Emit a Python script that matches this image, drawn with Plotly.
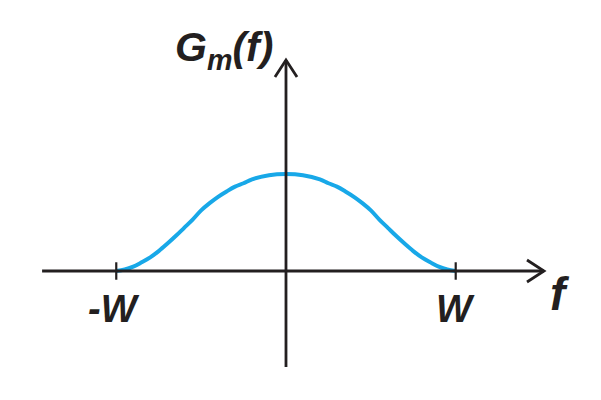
import plotly.graph_objects as go

# Spectrum shape G_m(f), f in units of W
freq = [-1.0, -0.95, -0.9, -0.85, -0.8, -0.75, -0.7, -0.65, -0.6, -0.55, -0.5,
        -0.45, -0.4, -0.35, -0.3, -0.25, -0.2, -0.1, 0.0,
        0.1, 0.2, 0.25, 0.3, 0.35, 0.4, 0.45, 0.5, 0.55, 0.6, 0.65, 0.7,
        0.75, 0.8, 0.85, 0.9, 0.95, 1.0]
gain = [0.0, 0.015, 0.045, 0.09, 0.14, 0.205, 0.28, 0.36, 0.445, 0.53, 0.625,
        0.70, 0.765, 0.82, 0.87, 0.905, 0.945, 0.988, 1.0,
        0.988, 0.945, 0.905, 0.87, 0.82, 0.765, 0.70, 0.625, 0.53, 0.445, 0.36, 0.28,
        0.205, 0.14, 0.09, 0.045, 0.015, 0.0]

tick_vals = [-1.0, 1.0]
tick_labels = ["-W", "W"]
x_axis_title = "f"
y_axis_title = "<i>G</i><sub><i>m</i></sub><i>(f)</i>"

W, H = 601, 400
X_RANGE = [-1.685, 1.856]
Y_RANGE = [-1.330, 2.794]
ink = "#231f20"
blue = "#18a8e8"

fig = go.Figure()
fig.add_trace(go.Scatter(x=freq, y=gain, mode="lines",
                         line=dict(color=blue, width=4, shape="spline"),
                         hoverinfo="skip", showlegend=False))

# axis extents and arrow geometry (data units)
x_lo, x_hi = -1.437, 1.52
y_lo, y_hi = -0.99, 2.175
ax_len, ax_half = 0.10, 0.113     # horizontal arrow head
ay_len, ay_half = 0.175, 0.065    # vertical arrow head

shapes = [
    dict(type="line", x0=x_lo, x1=x_hi, y0=0, y1=0, line=dict(color=ink, width=2.8)),
    dict(type="line", x0=0, x1=0, y0=y_lo, y1=y_hi, line=dict(color=ink, width=2.8)),
    dict(type="path",
         path=f"M {x_hi-ax_len},{ax_half} L {x_hi},0 L {x_hi-ax_len},{-ax_half}",
         line=dict(color=ink, width=2.8)),
    dict(type="path",
         path=f"M {-ay_half},{y_hi-ay_len} L 0,{y_hi} L {ay_half},{y_hi-ay_len}",
         line=dict(color=ink, width=2.8)),
]
for tv in tick_vals:
    shapes.append(dict(type="line", x0=tv, x1=tv, y0=-0.09, y1=0.09,
                       line=dict(color=ink, width=2.2)))
for s in shapes:
    s.update(xref="x", yref="y")

fam = "Liberation Sans, Arial, sans-serif"
annotations = []
for tv, tl in zip(tick_vals, tick_labels):
    annotations.append(dict(x=tv, y=1 - 309 / H, xref="x", yref="paper",
                            text=f"<b><i>{tl}</i></b>", showarrow=False,
                            xanchor="center", yanchor="middle",
                            xshift=-2 if tl.startswith("-") else 0,
                            font=dict(family=fam, size=38, color=ink)))
annotations.append(dict(x=560 / W, y=1 - 294 / H, xref="paper", yref="paper",
                        text=f"<b><i>{x_axis_title}</i></b>", showarrow=False,
                        xanchor="center", yanchor="middle",
                        font=dict(family=fam, size=46, color=ink)))
annotations.append(dict(x=224 / W, y=1 - 50 / H, xref="paper", yref="paper",
                        text=f"<b>{y_axis_title}</b>", showarrow=False,
                        xanchor="center", yanchor="middle",
                        font=dict(family=fam, size=41, color=ink)))

fig.update_layout(
    width=W, height=H, margin=dict(l=0, r=0, t=0, b=0),
    paper_bgcolor="white", plot_bgcolor="white",
    xaxis=dict(range=X_RANGE, visible=False, fixedrange=True),
    yaxis=dict(range=Y_RANGE, visible=False, fixedrange=True),
    shapes=shapes, annotations=annotations, showlegend=False,
)
fig.write_html("out.html", config={"displayModeBar": False},
               post_script="document.body.style.margin='0px';")
